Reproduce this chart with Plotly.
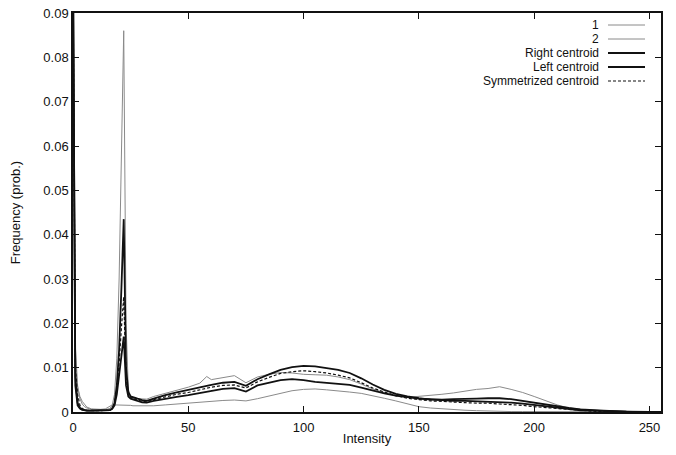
import plotly.graph_objects as go

X = [0, 1, 2, 3, 4, 5, 6, 8, 10, 12, 14, 16, 17, 18, 19, 20, 21, 22, 23, 24, 25, 26, 28, 30,
     32, 35, 40, 45, 50, 55, 58, 60, 65, 70, 75, 80, 85, 90, 95, 100, 105, 110, 115, 120,
     125, 130, 135, 140, 145, 150, 155, 160, 165, 170, 175, 180, 185, 190, 195, 200, 205,
     210, 215, 220, 225, 230, 240, 250, 255]

hist_1 = [0.12, 0.0105, 0.0055, 0.0035, 0.0024, 0.0016, 0.0011, 0.0007, 0.0006, 0.0006, 0.0007,
          0.0012, 0.0016, 0.0016, 0.0016, 0.0016, 0.0016, 0.0016, 0.0015, 0.0015, 0.0015, 0.0014,
          0.0014, 0.0013, 0.0013, 0.0014, 0.0016, 0.0018, 0.002, 0.0022, 0.0023, 0.0025, 0.0026,
          0.0027, 0.0025, 0.003, 0.0036, 0.0042, 0.0048, 0.0051, 0.0052, 0.005, 0.0048, 0.0045,
          0.0042, 0.0037, 0.0031, 0.0025, 0.0018, 0.0012, 0.0009, 0.0007, 0.0005, 0.0004, 0.0003,
          0.0002, 0.0002, 0.0001, 0.0001, 0.0001, 0.0, 0.0, 0.0, 0.0, 0.0, 0.0, 0.0, 0.0, 0.0]

hist_2 = [0.1, 0.015, 0.006, 0.003, 0.0018, 0.0012, 0.0009, 0.0006, 0.0005, 0.0005, 0.0005,
          0.0008, 0.0015, 0.004, 0.012, 0.03, 0.058, 0.086, 0.02, 0.005, 0.0035, 0.003,
          0.003, 0.003, 0.0029, 0.0035, 0.0042, 0.005, 0.0056, 0.0065, 0.008, 0.0073, 0.0078,
          0.0082, 0.0066, 0.0079, 0.0085, 0.0089, 0.0088, 0.0085, 0.0084, 0.0083, 0.0079, 0.0073,
          0.0063, 0.0052, 0.0044, 0.0036, 0.0033, 0.0035, 0.0037, 0.004, 0.0043, 0.0047, 0.0051,
          0.0053, 0.0057, 0.0051, 0.0044, 0.0035, 0.0025, 0.0016, 0.0009, 0.0006, 0.0004, 0.0003,
          0.0001, 0.0, 0.0]

right_centroid = [0.1, 0.008, 0.002, 0.0009, 0.0006, 0.0004, 0.0003, 0.0003, 0.0003, 0.0003, 0.0004,
                  0.0004, 0.0008, 0.002, 0.006, 0.014, 0.028, 0.0435, 0.01, 0.0045, 0.0035, 0.0033,
                  0.003, 0.0027, 0.0025, 0.003, 0.0038, 0.0044, 0.005, 0.0056, 0.0059, 0.0061, 0.0066,
                  0.0068, 0.0059, 0.0074, 0.0085, 0.0095, 0.0101, 0.0104, 0.0103, 0.0099, 0.0095, 0.0088,
                  0.0076, 0.0062, 0.005, 0.0041, 0.0035, 0.0031, 0.0028, 0.0027, 0.0025, 0.0025, 0.0024,
                  0.0023, 0.0023, 0.0021, 0.0019, 0.0016, 0.0012, 0.0009, 0.0006, 0.0004, 0.0003, 0.0002,
                  0.0001, 0.0, 0.0]

left_centroid = [0.1, 0.006, 0.0015, 0.0008, 0.0005, 0.0004, 0.0003, 0.0003, 0.0003, 0.0003, 0.0003,
                 0.0004, 0.0007, 0.0015, 0.004, 0.008, 0.013, 0.017, 0.006, 0.0035, 0.003, 0.0028,
                 0.0025, 0.0022, 0.0021, 0.0025, 0.003, 0.0034, 0.0038, 0.0043, 0.0046, 0.0048, 0.0052,
                 0.0054, 0.0046, 0.006, 0.0066, 0.0072, 0.0074, 0.0072, 0.0068, 0.0066, 0.0064, 0.0061,
                 0.0055, 0.0048, 0.0042, 0.0037, 0.0034, 0.003, 0.0029, 0.0028, 0.0029, 0.0029, 0.003,
                 0.0031, 0.0031, 0.0029, 0.0025, 0.0021, 0.0016, 0.0012, 0.0009, 0.0006, 0.0004, 0.0003,
                 0.0001, 0.0, 0.0]

sym_centroid = [0.1, 0.01, 0.004, 0.0015, 0.0008, 0.0005, 0.0004, 0.0003, 0.0003, 0.0003, 0.0003,
                0.0004, 0.0008, 0.0018, 0.005, 0.011, 0.019, 0.026, 0.008, 0.004, 0.0033, 0.003,
                0.0027, 0.0024, 0.0023, 0.0028, 0.0034, 0.004, 0.0044, 0.005, 0.0054, 0.0056, 0.006,
                0.0061, 0.0054, 0.0068, 0.0078, 0.0087, 0.0091, 0.0093, 0.0091, 0.0088, 0.0083, 0.0077,
                0.0066, 0.0054, 0.0045, 0.0037, 0.0031, 0.0028, 0.0025, 0.0024, 0.0022, 0.0021, 0.002,
                0.002, 0.0018, 0.0017, 0.0015, 0.0012, 0.001, 0.0008, 0.0005, 0.0003, 0.0002, 0.0001,
                0.0, 0.0, 0.0]

Y_TICKS = [0, 0.01, 0.02, 0.03, 0.04, 0.05, 0.06, 0.07, 0.08, 0.09]
Y_TICK_TEXT = ["0", "0.01", "0.02", "0.03", "0.04", "0.05", "0.06", "0.07", "0.08", "0.09"]
X_TICKS = [0, 50, 100, 150, 200, 250]

# name, values, colour, width, dash
SERIES = [
    ("1", hist_1, "#8a8a8a", 1, "solid"),
    ("2", hist_2, "#8a8a8a", 1, "solid"),
    ("Right centroid", right_centroid, "#111111", 1.8, "solid"),
    ("Left centroid", left_centroid, "#111111", 1.8, "solid"),
    ("Symmetrized centroid", sym_centroid, "#111111", 1.2, "3px,2px"),
]

FONT = "Liberation Sans, Arial, sans-serif"

fig = go.Figure()
for name, ys, color, width, dash in SERIES:
    fig.add_trace(go.Scatter(
        x=X, y=ys, mode="lines", name=name, showlegend=False,
        line=dict(color=color, width=width, dash=dash),
    ))

W, H = 676, 455
L, R, T, B = 73, 661, 13, 412   # plot box in page pixels (body margin removed below)


def px(xp):
    return (xp - L) / (R - L)


def py(yp):
    return (B - yp) / (B - T)


# gnuplot-style key: right-aligned text, line sample on its right
key_rows = [25, 39, 53, 67, 81]
for (name, _, color, width, dash), yp in zip(SERIES, key_rows):
    fig.add_annotation(
        xref="paper", yref="paper", x=px(600), y=py(yp), text=name,
        showarrow=False, xanchor="right", yanchor="middle", borderpad=0,
        font=dict(family=FONT, size=12, color="#111111"),
    )
    fig.add_shape(
        type="line", xref="paper", yref="paper",
        x0=px(608), x1=px(645), y0=py(yp), y1=py(yp),
        line=dict(color=color, width=width, dash=dash),
    )

axis_common = dict(
    showline=True, linecolor="#111111", linewidth=1.5, mirror="ticks",
    ticks="inside", ticklen=6, tickcolor="#111111", tickwidth=1,
    showgrid=False, zeroline=False, automargin=False, ticklabeloverflow="allow",
    tickfont=dict(family=FONT, size=13, color="#111111"),
)

fig.update_xaxes(
    range=[0, 255], tickvals=X_TICKS, ticklabelstandoff=3,
    title=dict(text="Intensity", font=dict(family=FONT, size=13, color="#111111"), standoff=0),
    **axis_common,
)
fig.update_yaxes(
    range=[0, 0.09], tickvals=Y_TICKS, ticktext=Y_TICK_TEXT,
    title=dict(text="Frequency (prob.)", font=dict(family=FONT, size=13, color="#111111"), standoff=20),
    **axis_common,
)

fig.update_layout(
    width=W, height=H,
    margin=dict(l=L, r=W - R, t=T, b=H - B),
    paper_bgcolor="white", plot_bgcolor="white",
    font=dict(family=FONT, size=13, color="#111111"),
)

fig.write_html(
    "out.html",
    config={"displayModeBar": False},
    post_script="document.body.style.margin='0';",
)
